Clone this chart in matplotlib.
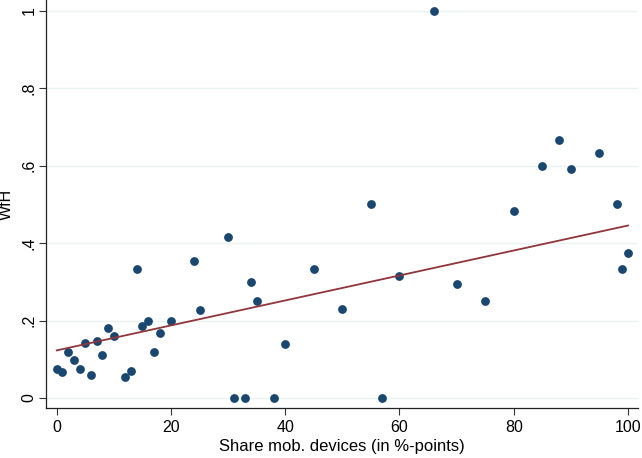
import numpy as np
import matplotlib.pyplot as plt
import matplotlib.ticker as mticker

plt.rcParams['font.family'] = ['Liberation Sans', 'DejaVu Sans']

# share of mobile devices (x) and WfH (y)
share_mob = [0, 1, 2, 3, 4, 5, 6, 7, 8, 9, 10, 12, 13, 14, 15, 16, 17, 18, 20,
             24, 25, 30, 31, 33, 34, 35, 38, 40, 45, 50, 55, 57, 60, 66,
             70, 75, 80, 85, 88, 90, 95, 98, 99, 100]
wfh = [0.074, 0.066, 0.118, 0.097, 0.076, 0.143, 0.060, 0.146, 0.112, 0.181, 0.159,
       0.053, 0.071, 0.333, 0.185, 0.200, 0.118, 0.167, 0.200,
       0.353, 0.228, 0.415, 0.0, 0.0, 0.299, 0.250, 0.0, 0.140, 0.333, 0.231,
       0.500, 0.0, 0.315, 1.0, 0.295, 0.250, 0.482, 0.600, 0.667, 0.591, 0.633,
       0.500, 0.333, 0.375]

# fitted line as shown in the chart (intercept, slope)
fit_intercept = 0.123
fit_slope = 0.003225

x = np.array(share_mob, dtype=float)
y = np.array(wfh)
xs = np.array([x.min(), x.max()])

fig = plt.figure(figsize=(6.42, 4.58), dpi=100)
ax = fig.add_axes([0.0717, 0.1085, 0.9225, 0.8915])

ax.scatter(x, y, s=40, color='#1a476f', zorder=3, linewidths=0)
ax.plot(xs, fit_intercept + fit_slope * xs, color='#90353b', lw=1.3, zorder=4)

ax.set_xlim(-1.87, 101.8)
ax.set_ylim(-0.0266, 1.028)
ax.set_xticks([0, 20, 40, 60, 80, 100])
ax.set_yticks([0, 0.2, 0.4, 0.6, 0.8, 1.0])
ax.yaxis.set_major_formatter(mticker.FuncFormatter(
    lambda v, p: '0' if v == 0 else ('1' if v == 1 else f'{v:.1f}'.lstrip('0'))))
for lab in ax.get_yticklabels():
    lab.set_rotation(90)
    lab.set_va('center')
ax.tick_params(labelsize=11.5, length=5, width=0.8, color='#333333')
ax.tick_params(axis='y', pad=2)
ax.grid(axis='y', color='#eaf2f3', lw=1)
ax.set_axisbelow(True)
for s in ['top', 'right']:
    ax.spines[s].set_visible(False)
for s in ['left', 'bottom']:
    ax.spines[s].set_color('#222222')
    ax.spines[s].set_linewidth(0.9)

ax.set_xlabel('Share mob. devices (in %-points)', fontsize=12, labelpad=3)
ax.set_ylabel('WfH', fontsize=11.5)
ax.yaxis.set_label_coords(-0.054, 0.5)

plt.savefig('out.png', dpi=100)
